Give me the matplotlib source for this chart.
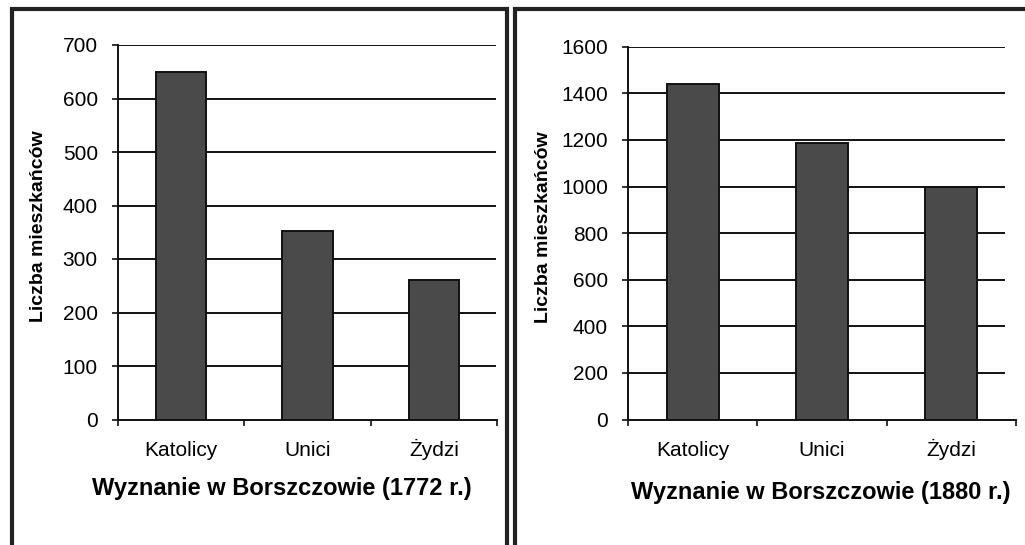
import matplotlib
matplotlib.use("Agg")
import matplotlib.pyplot as plt
from matplotlib.patches import Rectangle

plt.rcParams['font.family'] = ['Liberation Sans', 'DejaVu Sans']

categories = ["Katolicy", "Unici", "Żydzi"]
values_1772 = [650, 352, 260]
values_1880 = [1440, 1185, 1000]
yticks_1772 = [0, 100, 200, 300, 400, 500, 600, 700]
yticks_1880 = [0, 200, 400, 600, 800, 1000, 1200, 1400, 1600]
ylabel = "Liczba mieszkańców"
xlabel_1772 = "Wyznanie w Borszczowie (1772 r.)"
xlabel_1880 = "Wyznanie w Borszczowie (1880 r.)"

W, H = 1025, 545
fig = plt.figure(figsize=(W / 100, H / 100), dpi=100)
fig.patch.set_facecolor("white")


def px_axes(x0, x1, ytop, ybot):
    return fig.add_axes([x0 / W, (H - ybot) / H, (x1 - x0) / W, (ybot - ytop) / H])


def draw(ax, vals, yticks, grid_xmax):
    ax.set_xlim(-0.5, len(categories) - 0.5)
    ax.set_ylim(yticks[0], yticks[-1])
    for t in yticks[1:]:
        ax.axhline(t, xmin=0, xmax=grid_xmax, color="#111111", lw=1.4, zorder=1)
    ax.bar(range(len(categories)), vals, width=0.4, color="#4a4a4a",
           edgecolor="#111111", linewidth=1.4, zorder=2)
    for s in ["top", "right"]:
        ax.spines[s].set_visible(False)
    for s in ["left", "bottom"]:
        ax.spines[s].set_color("#111111")
        ax.spines[s].set_linewidth(1.4)
        ax.spines[s].set_zorder(3)
    ax.set_yticks(yticks)
    ax.set_yticklabels([str(t) for t in yticks])
    ax.tick_params(axis="y", direction="out", length=4.5, width=1.2,
                   color="#111111", labelsize=15, pad=10)
    ax.set_xticks([i - 0.5 for i in range(len(categories) + 1)])
    ax.set_xticklabels([])
    ax.tick_params(axis="x", which="major", direction="out", length=4, width=1.2,
                   color="#111111")
    ax.set_xticks(range(len(categories)), minor=True)
    ax.set_xticklabels(categories, minor=True)
    ax.tick_params(axis="x", which="minor", length=0, labelsize=15, pad=26)
    for lab in ax.get_xticklabels(minor=True):
        lab.set_verticalalignment("baseline")


ax1 = px_axes(118, 497, 45, 419.5)
draw(ax1, values_1772, yticks_1772, 0.995)
ax2 = px_axes(628, 1016, 46.8, 419.5)
draw(ax2, values_1880, yticks_1880, 0.969)

fig.text(39 / W, 1 - 226 / H, ylabel, rotation=90, ha="center", va="center",
         fontsize=14, fontweight="bold")
fig.text(544 / W, 1 - 227 / H, ylabel, rotation=90, ha="center", va="center",
         fontsize=14, fontweight="bold")
fig.text(282 / W, 1 - 489 / H, xlabel_1772, ha="center", va="center",
         fontsize=17, fontweight="bold")
fig.text(821 / W, 1 - 492 / H, xlabel_1880, ha="center", va="center",
         fontsize=17, fontweight="bold")

# panel frames
fig.add_artist(Rectangle((11.5 / W, -0.05), (507 - 11.5) / W, 1.05 - 9.5 / H,
                         transform=fig.transFigure, fill=False,
                         edgecolor="#222222", linewidth=3))
fig.add_artist(Rectangle((514.5 / W, -0.05), (1040 - 514.5) / W, 1.05 - 9.5 / H,
                         transform=fig.transFigure, fill=False,
                         edgecolor="#222222", linewidth=3))

fig.savefig("out.png", dpi=100, facecolor="white")
